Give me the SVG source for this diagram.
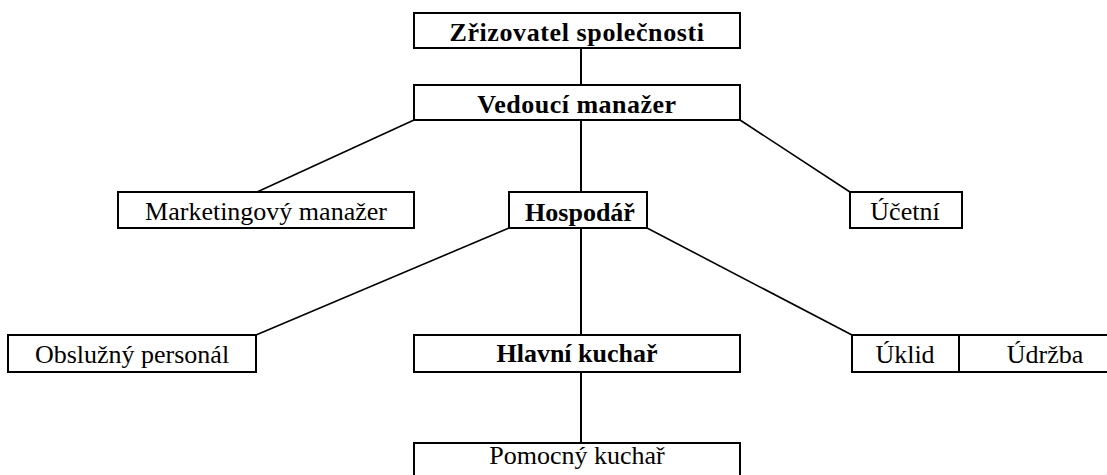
<svg xmlns="http://www.w3.org/2000/svg" width="1107" height="475" viewBox="0 0 1107 475">
<style>
.box{fill:#fff;stroke:#000;stroke-width:2}
.t{font-family:"Liberation Serif","Times New Roman",serif;font-size:26px;fill:#000;text-anchor:middle}
.b{font-weight:bold}
.c{stroke:#000;stroke-width:1.6;fill:none}
.v{stroke:#000;stroke-width:2;fill:none}
</style>
<rect width="1107" height="475" fill="#fff"/>
<g id="connectors">
<line class="v" x1="581" y1="48" x2="581" y2="85"/>
<line class="v" x1="581" y1="120" x2="581" y2="192"/>
<line class="c" x1="414" y1="120" x2="257" y2="192"/>
<line class="c" x1="740" y1="120" x2="850" y2="192"/>
<line class="v" x1="581" y1="228" x2="581" y2="335"/>
<line class="c" x1="509" y1="228" x2="256" y2="335"/>
<line class="c" x1="647" y1="228" x2="852" y2="335"/>
<line class="v" x1="581" y1="372" x2="581" y2="443"/>
</g>
<g id="zrizovatel"><rect class="box" x="414" y="13" width="326" height="35"/><text class="t b" x="577" y="41" letter-spacing="0.6">Zřizovatel společnosti</text></g>
<g id="vedouci"><rect class="box" x="414" y="85" width="326" height="35"/><text class="t b" x="577" y="113" letter-spacing="0.5">Vedoucí manažer</text></g>
<g id="marketing"><rect class="box" x="118" y="192" width="296" height="36"/><text class="t" x="266" y="220">Marketingový manažer</text></g>
<g id="hospodar"><rect class="box" x="509" y="192" width="138" height="36"/><text class="t b" x="580" y="221">Hospodář</text></g>
<g id="ucetni"><rect class="box" x="850" y="192" width="112" height="36"/><text class="t" x="905" y="220">Účetní</text></g>
<g id="obsluzny"><rect class="box" x="8" y="335" width="248" height="37"/><text class="t" x="132" y="363">Obslužný personál</text></g>
<g id="hlavni"><rect class="box" x="414" y="335" width="326" height="37"/><text class="t b" x="577" y="362">Hlavní kuchař</text></g>
<g id="uklid"><rect class="box" x="852" y="335" width="107" height="37"/><text class="t" x="905" y="363">Úklid</text></g>
<g id="udrzba"><rect class="box" x="959" y="335" width="160" height="37"/><text class="t" x="1045" y="363">Údržba</text></g>
<g id="pomocny"><rect class="box" x="414" y="443" width="326" height="45"/><text class="t" x="577" y="464">Pomocný kuchař</text></g>
</svg>
